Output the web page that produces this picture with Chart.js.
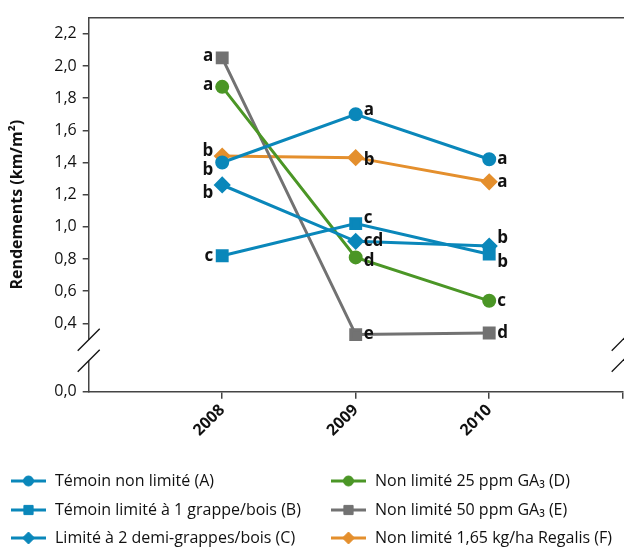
<!DOCTYPE html>
<html>
<head>
<meta charset="utf-8">
<script src="https://cdn.jsdelivr.net/npm/chart.js@4.4.1/dist/chart.umd.min.js"></script>
<style>
  html, body { margin: 0; padding: 0; background: #fff; }
</style>
</head>
<body>
<canvas id="rendChart" width="624" height="548"></canvas>
<script>
// Données (rendements km/m²)
const years = [2008, 2009, 2010];
const seriesNames = [
  "Témoin non limité (A)",
  "Témoin limité à 1 grappe/bois (B)",
  "Limité à 2 demi-grappes/bois (C)",
  "Non limité 25 ppm GA₃ (D)",
  "Non limité 50 ppm GA₃ (E)",
  "Non limité 1,65 kg/ha Regalis (F)"
];
const temoinNonLimite = [1.40, 1.70, 1.42];
const temoinLimite1 = [0.82, 1.02, 0.83];
const limiteDemiGrappes = [1.26, 0.91, 0.88];
const ga25 = [1.87, 0.81, 0.54];
const ga50 = [2.05, 0.33, 0.34];
const regalis = [1.44, 1.43, 1.28];

// lettres de significativité
const lettersA = ["b", "a", "a"];
const lettersB = ["c", "c", "b"];
const lettersC = ["b", "cd", "b"];
const lettersD = ["a", "d", "c"];
const lettersE = ["a", "e", "d"];
const lettersF = ["b", "b", "a"];

const yTickValues = [0.4, 0.6, 0.8, 1.0, 1.2, 1.4, 1.6, 1.8, 2.0, 2.2];

// style
const BLUE = "#0a87ba";
const GREEN = "#4b9626";
const GRAY = "#727272";
const ORANGE = "#e48f2d";
const AXIS = "#444";
const FONT = "'Open Sans', 'Noto Sans', sans-serif";

// décalage vertical des lettres (px)
const letterShift = [
  [8, -4, 0],
  [0, -5, 8],
  [8, 0, -8],
  [-2, 4, 0],
  [-2, 0, 0],
  [-5, 3, 0]
];

function makeSet(i, values, color, style, radius, letters) {
  return {
    label: seriesNames[i],
    data: years.map((y, k) => ({ x: y, y: values[k] })),
    letters: letters,
    borderColor: color,
    backgroundColor: color,
    pointBackgroundColor: color,
    pointBorderColor: color,
    borderWidth: 3,
    pointStyle: style,
    pointRadius: radius,
    pointHoverRadius: radius,
    fill: false,
    tension: 0
  };
}

const datasets = [
  makeSet(0, temoinNonLimite, BLUE, "circle", 5.5, lettersA),
  makeSet(1, temoinLimite1, BLUE, "rect", 7, lettersB),
  makeSet(2, limiteDemiGrappes, BLUE, "rectRot", 6.5, lettersC),
  makeSet(3, ga25, GREEN, "circle", 5.5, lettersD),
  makeSet(4, ga50, GRAY, "rect", 7, lettersE),
  makeSet(5, regalis, ORANGE, "rectRot", 6.5, lettersF)
];

const Y_MIN = -0.025;

// lettres à côté des points
const lettersPlugin = {
  id: "letters",
  afterDatasetsDraw(chart) {
    const ctx = chart.ctx;
    ctx.save();
    ctx.font = "bold 17px " + FONT;
    ctx.fillStyle = "#111";
    ctx.textBaseline = "middle";
    chart.data.datasets.forEach((ds, i) => {
      const meta = chart.getDatasetMeta(i);
      meta.data.forEach((pt, k) => {
        if (k === 0) {
          ctx.textAlign = "right";
          ctx.fillText(ds.letters[k], pt.x - 9, pt.y + letterShift[i][k]);
        } else {
          ctx.textAlign = "left";
          ctx.fillText(ds.letters[k], pt.x + 8, pt.y + letterShift[i][k]);
        }
      });
    });
    ctx.restore();
  }
};

// cadre, coupure d'axe et légende
const framePlugin = {
  id: "frame",
  afterDraw(chart) {
    const ctx = chart.ctx;
    const x = chart.scales.x;
    const left = chart.chartArea.left;
    const right = x.right;
    const top = chart.chartArea.top;
    const bottom = chart.chartArea.bottom;
    ctx.save();
    // ligne du haut
    ctx.strokeStyle = AXIS;
    ctx.lineWidth = 1.5;
    ctx.beginPath();
    ctx.moveTo(left, top);
    ctx.lineTo(right + 2, top);
    ctx.stroke();
    // coupure
    const c1 = bottom - 52;
    const c2 = bottom - 31;
    ctx.fillStyle = "#fff";
    ctx.fillRect(left - 2, c1, 4, c2 - c1);
    ctx.strokeStyle = "#111";
    ctx.lineWidth = 1.3;
    [left, right].forEach(cx => {
      [c1, c2].forEach(cy => {
        ctx.beginPath();
        ctx.moveTo(cx - 11, cy + 11);
        ctx.lineTo(cx + 11, cy - 11);
        ctx.stroke();
      });
    });
    // légende sur deux colonnes
    const cols = [11, 331];
    const rows = [481, 510, 538];
    ctx.font = "16px " + FONT;
    ctx.textBaseline = "middle";
    ctx.textAlign = "left";
    chart.data.datasets.forEach((ds, i) => {
      const lx = cols[Math.floor(i / 3)];
      const ly = rows[i % 3];
      ctx.strokeStyle = ds.borderColor;
      ctx.fillStyle = ds.borderColor;
      ctx.lineWidth = 3;
      ctx.beginPath();
      ctx.moveTo(lx, ly);
      ctx.lineTo(lx + 35, ly);
      ctx.stroke();
      ctx.lineWidth = 1;
      Chart.helpers.drawPoint(ctx, {
        pointStyle: ds.pointStyle,
        radius: ds.pointRadius - 0.5,
        rotation: 0,
        borderWidth: 1
      }, lx + 17.5, ly);
      ctx.fillStyle = "#111";
      ctx.fillText(ds.label, lx + 44, ly);
    });
    ctx.restore();
  }
};

const ctx = document.getElementById("rendChart").getContext("2d");
const chart = new Chart(ctx, {
  type: "line",
  data: { datasets: datasets },
  options: {
    responsive: false,
    animation: false,
    layout: { autoPadding: false, padding: { top: 17.7, right: 1.3, left: 0, bottom: 0 } },
    plugins: {
      legend: { display: false },
      tooltip: { enabled: false }
    },
    scales: {
      x: {
        type: "linear",
        min: 2007,
        max: 2011,
        afterBuildTicks: (scale) => {
          scale.ticks = [2008, 2009, 2010, 2011].map(v => ({ value: v }));
        },
        afterFit: (scale) => {
          scale.height = 156.3;
          scale.paddingLeft = 0;
          scale.paddingRight = 0;
        },
        grid: { display: true, drawOnChartArea: false, drawTicks: true, tickLength: 7, color: AXIS, lineWidth: 1.5 },
        border: { display: true, color: AXIS, width: 1.5 },
        ticks: {
          autoSkip: false,
          minRotation: 45,
          maxRotation: 45,
          padding: 2,
          color: "#111",
          font: { family: FONT, size: 16, weight: "bold" },
          callback: (v) => years.includes(v) ? String(v) : ""
        }
      },
      y: {
        type: "linear",
        min: Y_MIN,
        max: 2.3,
        afterBuildTicks: (scale) => {
          scale.ticks = [Y_MIN].concat(yTickValues).map(v => ({ value: v }));
        },
        afterFit: (scale) => { scale.width = 88.7; },
        grid: { display: true, drawOnChartArea: false, drawTicks: true, tickLength: 6, color: AXIS, lineWidth: 1.5 },
        border: { display: true, color: AXIS, width: 1.5 },
        title: {
          display: true,
          text: "Rendements (km/m²)",
          color: "#111",
          font: { family: FONT, size: 16, weight: "bold" },
          padding: { top: 8, bottom: 0 }
        },
        ticks: {
          padding: 6,
          color: "#111",
          font: { family: FONT, size: 16 },
          callback: (v) => v === Y_MIN ? "0,0" : v.toFixed(1).replace(".", ",")
        }
      }
    }
  },
  plugins: [lettersPlugin, framePlugin]
});
</script>
</body>
</html>
